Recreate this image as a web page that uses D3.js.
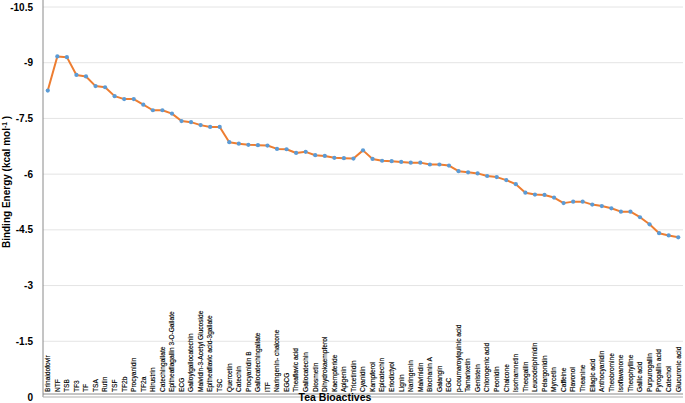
<!DOCTYPE html>
<html>
<head>
<meta charset="utf-8">
<script src="https://cdn.jsdelivr.net/npm/d3@7"></script>
<style>
body{margin:0;background:#fff;}
text{font-family:"Liberation Sans",Arial,sans-serif;}
</style>
</head>
<body>
<svg class="chart" width="685" height="403"></svg>
<script>
// tea bioactives, in plotted order
const compounds = ["Brinaidofovir","NTF","TSB","TF3","TF","TSA","Rutin","TSF","TF2b","Procyanidin",
"TF2a","Hirustrin","Catechingallate","Epitheaflagallin 3-O-Gallate","ECG","Galloylgallocatechin",
"Malvidin-3-Acetyl Glucoside","Epitheaflavic acid-3gallate","TSC","Quercetin","Catechin","Procyanidin B",
"Gallocatechingallate","ITF","Naringenin- chalcone","EGCG","Theaflavic acid","Gallocatechin","Diosmetin",
"Dihydrokaempferol","Kaempferide","Apigenin","Tricetinidin","Cyanidin","Kampferol","Epicatechin",
"Eriodictyol","Lignin","Naringenin","Malvinidin","Biochanin A","Galangin","EGC","p-coumaroylquinic acid",
"Tamarixetin","Genistein","Chlorogenic acid","Peonidin","Chalcone","Isorhamnetin","Theogallin",
"Leucodelphinidin","Pelargonidin","Myrcetin","Caffeine","Flavonol","Theanine","Ellagic acid",
"Anthocyanidin","Theobromine","Isoflavanone","Theophylline","Gallic acid","Purpurogallin",
"Pyrogallin acid","Catechol","Glucuronic acid"];

// binding energy (kcal/mol)
const energy = [-8.25,-9.17,-9.15,-8.67,-8.63,-8.37,-8.34,-8.10,-8.02,-8.02,
-7.87,-7.72,-7.72,-7.63,-7.43,-7.40,-7.32,-7.27,-7.27,-6.86,
-6.82,-6.79,-6.78,-6.77,-6.68,-6.67,-6.57,-6.60,-6.51,-6.49,
-6.44,-6.43,-6.42,-6.64,-6.41,-6.36,-6.35,-6.33,-6.31,-6.31,
-6.26,-6.26,-6.23,-6.08,-6.05,-6.02,-5.95,-5.92,-5.84,-5.73,
-5.50,-5.45,-5.44,-5.37,-5.22,-5.26,-5.26,-5.18,-5.14,-5.08,
-4.99,-4.99,-4.84,-4.65,-4.41,-4.35,-4.30];

const yTicks = [0,-1.5,-3,-4.5,-6,-7.5,-9,-10.5];
const tickLabels = ["0","-1.5","-3","-4.5","-6","-7.5","-9","-10.5"];

const svg = d3.select("svg.chart");
const plotLeft = 43, plotRight = 683, plotTop = 7, plotBottom = 397;

const x = d3.scalePoint().domain(compounds).range([plotLeft, plotRight]).padding(0.5);
const y = d3.scaleLinear().domain([0, -10.5]).range([plotBottom, plotTop]);

// grid
svg.append("g").selectAll("line").data(yTicks).enter().append("line")
  .attr("x1", plotLeft).attr("x2", plotRight)
  .attr("y1", d => y(d)).attr("y2", d => y(d))
  .attr("stroke", "#e4e4e4").attr("stroke-width", 1);

// axis lines
svg.append("line").attr("x1", plotLeft).attr("x2", plotLeft).attr("y1", 0).attr("y2", plotBottom)
  .attr("stroke", "#8a8a8a").attr("stroke-width", 1);
svg.append("line").attr("x1", plotLeft).attr("x2", plotRight).attr("y1", plotBottom - 3).attr("y2", plotBottom - 3)
  .attr("stroke", "#8a8a8a").attr("stroke-width", 1);
svg.append("line").attr("x1", plotLeft).attr("x2", plotRight).attr("y1", plotBottom).attr("y2", plotBottom)
  .attr("stroke", "#bdbdbd").attr("stroke-width", 1);

// y tick labels
svg.append("g").selectAll("text").data(yTicks).enter().append("text")
  .attr("x", 33).attr("y", d => y(d)).attr("dy", "0.35em")
  .attr("text-anchor", "end").attr("font-size", 10).attr("font-weight", "bold")
  .text((d, i) => tickLabels[i]);

// category labels, rotated inside the plot
svg.append("g").selectAll("text").data(compounds).enter().append("text")
  .attr("transform", d => `translate(${x(d)},${plotBottom - 5}) rotate(-90)`)
  .attr("dy", "0.35em").attr("font-size", 6.6).attr("fill", "#000")
  .attr("stroke", "#000").attr("stroke-width", 0.15)
  .text(d => d);

// line
const line = d3.line().x((d, i) => x(compounds[i])).y(d => y(d));
svg.append("path").datum(energy)
  .attr("d", line).attr("fill", "none")
  .attr("stroke", "#ED7D31").attr("stroke-width", 2).attr("stroke-linejoin", "round");

svg.append("g").selectAll("circle").data(energy).enter().append("circle")
  .attr("cx", (d, i) => x(compounds[i])).attr("cy", d => y(d))
  .attr("r", 2.1).attr("fill", "#5B9BD5");

// titles
svg.append("text").attr("x", 335).attr("y", 401)
  .attr("text-anchor", "middle").attr("font-size", 10.5).attr("font-weight", "bold")
  .text("Tea Bioactives");

const yt = svg.append("text").attr("transform", "translate(10,182) rotate(-90)")
  .attr("text-anchor", "middle").attr("font-size", 10).attr("font-weight", "bold");
yt.append("tspan").text("Binding Energy (kcal mol");
yt.append("tspan").attr("font-size", 6.8).attr("dy", -3.5).text("-1");
yt.append("tspan").attr("dy", 3.5).text(" )");
</script>
</body>
</html>
